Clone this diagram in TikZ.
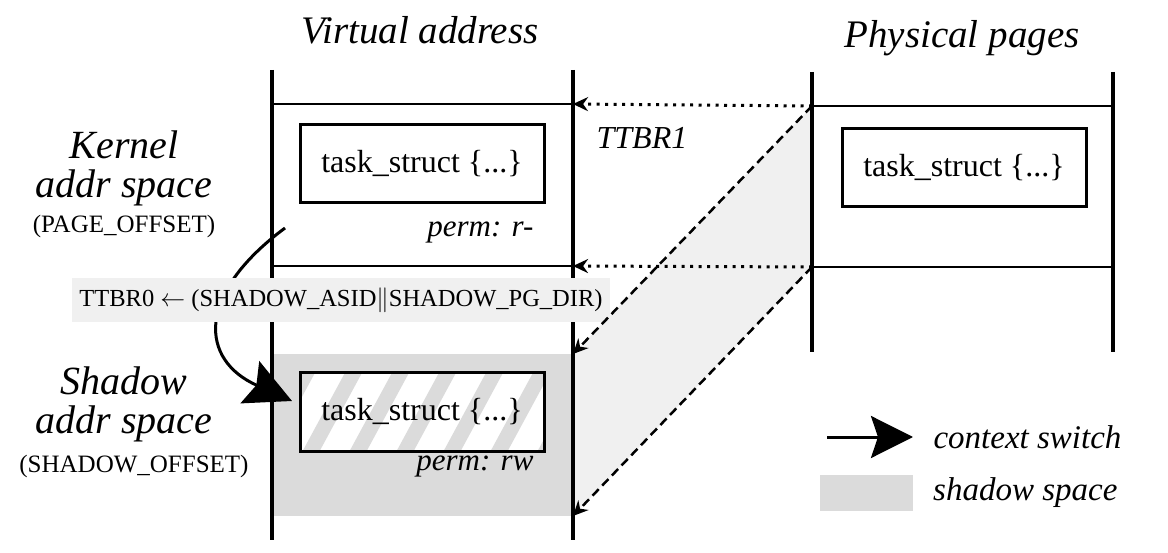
\documentclass[tikz,border=0pt]{standalone}
\usepackage{fontspec}
\setmainfont{Liberation Serif}
\usetikzlibrary{arrows.meta,positioning}
\definecolor{shadowgray}{gray}{0.86}
\definecolor{paleGray}{gray}{0.94}
\tikzset{
  bar/.style={line width=4.5pt},
  rule/.style={line width=2.5pt},
  structbox/.style={draw,line width=3pt,minimum width=244pt,minimum height=78pt,inner sep=0pt,font=\fontsize{32}{32}\selectfont},
  bigtitle/.style={font=\fontsize{39}{39}\selectfont\itshape},
  spacelabel/.style={font=\fontsize{40}{39}\selectfont\itshape,align=center},
  offsetlabel/.style={font=\fontsize{25}{25}\selectfont},
  permlabel/.style={font=\fontsize{31}{31}\selectfont\itshape,anchor=east},
  legendtext/.style={font=\fontsize{33}{33}\selectfont\itshape,anchor=west},
  maparrow/.style={line width=2.5pt,-{Stealth[length=15pt,width=14pt]}},
  dotarrow/.style={maparrow,line width=3pt,dash pattern=on 3pt off 5.5pt},
  dasharrow/.style={maparrow,dash pattern=on 9pt off 5pt},
  bighead/.style={line width=3pt,-{Stealth[length=#1,width=#1,inset=7pt]}}
}
\begin{document}
\begin{tikzpicture}[x=1pt,y=-1pt]
	\useasboundingbox (0,0) rectangle (1168,553);
	% columns
	\coordinate (vaLt) at (272,70);  \coordinate (vaLb) at (272,540);
	\coordinate (vaRt) at (573,70);  \coordinate (vaRb) at (573,540);
	\coordinate (ppLt) at (812,72);  \coordinate (ppLb) at (812,352);
	\coordinate (ppRt) at (1113,72); \coordinate (ppRb) at (1113,352);
	\coordinate (vaTop) at (573,104);   \coordinate (vaMid) at (573,266);
	\coordinate (ppTop) at (812,106);   \coordinate (ppMid) at (812,267);
	\coordinate (shTop) at (573,354);   \coordinate (shBot) at (573,516);
	% fills
	\fill[shadowgray] (272,354) rectangle (573,516);
	\fill[paleGray] (ppTop) -- (ppMid) -- (shBot) -- (shTop) -- cycle;
	% hatched shadow struct
	\begin{scope}
		\clip (300,374) rectangle (544,451);
		\fill[white] (300,374) rectangle (544,451);
		\foreach \s in {0,...,6}
			\draw[shadowgray,line width=15pt] ({262+\s*47},455) -- ++(46,-85);
	\end{scope}
	% lines
	\draw[bar] (vaLt) -- (vaLb);
	\draw[bar] (vaRt) -- (vaRb);
	\draw[bar] (ppLt) -- (ppLb);
	\draw[bar] (ppRt) -- (ppRb);
	\draw[rule] (272,104) -- (vaTop);
	\draw[rule] (272,266) -- (vaMid);
	\draw[rule] (ppTop) -- (1113,106);
	\draw[rule] (ppMid) -- (1113,267);
	% structs
	\node[structbox] (kstruct) at (422,164) {task\_struct \{...\}};
	\node[structbox] (pstruct) at (964,168) {task\_struct \{...\}};
	\node[structbox] (sstruct) at (422,412) {task\_struct \{...\}};
	\node[permlabel] (kperm) at (537,232) {perm: r-};
	\node[permlabel] (sperm) at (537,466) {perm: rw};
	% context switch
	\coordinate (csFrom) at (285,228);
	\coordinate (csTo) at (292,401);
	\draw[bighead=46pt] (csFrom) .. controls (195,295) and (200,360) .. (csTo);
	\node[fill=paleGray,minimum width=538pt,minimum height=44pt,inner sep=0pt,font=\fontsize{24.5}{24.5}\selectfont] (ttbrzero) at (341,300) {TTBR0 $\leftarrow$ (SHADOW\_ASID$\|$SHADOW\_PG\_DIR)};
	% mappings
	\draw[dotarrow] (ppTop) -- (vaTop);
	\draw[dotarrow] (ppMid) -- (vaMid);
	\draw[dasharrow] (ppTop) -- (shTop);
	\draw[dasharrow] (ppMid) -- (shBot);
	\node[font=\fontsize{32}{32}\selectfont\itshape] (ttbrone) at (642,138) {TTBR1};
	% titles
	\node[bigtitle] (vatitle) at (420,30) {Virtual address};
	\node[bigtitle] (pptitle) at (962,38) {Physical pages};
	\node[spacelabel] (kspace) at (124,168) {Kernel\\addr space};
	\node[offsetlabel] (koffset) at (124,226) {(PAGE\_OFFSET)};
	\node[spacelabel] (sspace) at (124,404) {Shadow\\addr space};
	\node[offsetlabel] (soffset) at (134,466) {(SHADOW\_OFFSET)};
	% legend
	\coordinate (lgFrom) at (827,437);
	\coordinate (lgTo) at (913,437);
	\draw[bighead=42pt] (lgFrom) -- (lgTo);
	\node[legendtext] (lgswitch) at (930,437) {context switch};
	\node[fill=shadowgray,minimum width=93pt,minimum height=36pt,inner sep=0pt] (lgbox) at (866,493) {};
	\node[legendtext,right=17pt of lgbox] (lgshadow) {shadow space};
\end{tikzpicture}
\end{document}
